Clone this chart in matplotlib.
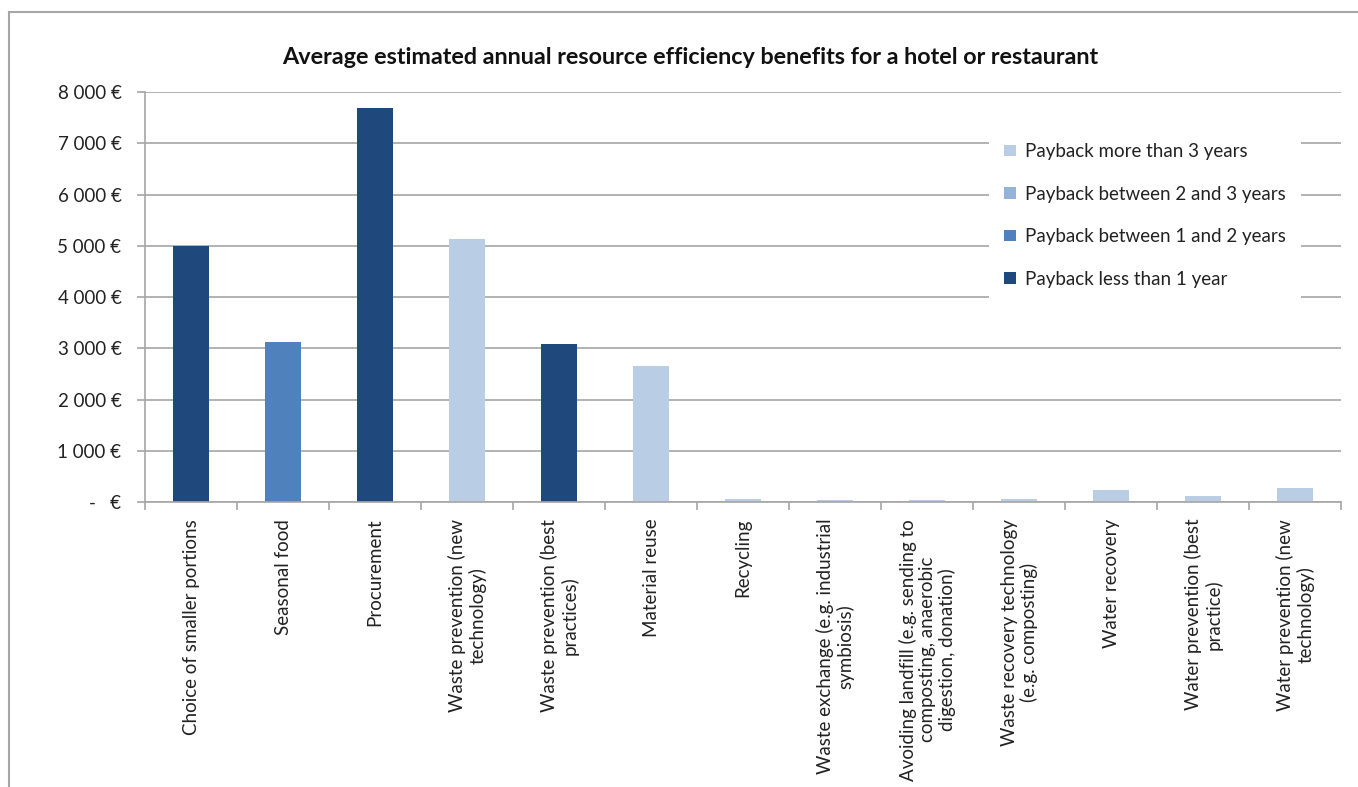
import matplotlib
matplotlib.use('Agg')
import matplotlib.pyplot as plt
import numpy as np
from matplotlib.patches import Patch

# Data
categories = [
    "Choice of smaller portions",
    "Seasonal food",
    "Procurement",
    "Waste prevention (new\ntechnology)",
    "Waste prevention (best\npractices)",
    "Material reuse",
    "Recycling",
    "Waste exchange (e.g. industrial\nsymbiosis)",
    "Avoiding landfill (e.g. sending to\ncomposting, anaerobic\ndigestion, donation)",
    "Waste recovery technology\n(e.g. composting)",
    "Water recovery",
    "Water prevention (best\npractice)",
    "Water prevention (new\ntechnology)",
]
values = [5000, 3120, 7690, 5130, 3080, 2650, 60, 40, 40, 60, 240, 120, 275]
payback = [3, 2, 3, 0, 3, 0, 0, 0, 0, 0, 0, 0, 0]   # index into classes below
classes = ["Payback more than 3 years", "Payback between 2 and 3 years",
           "Payback between 1 and 2 years", "Payback less than 1 year"]
yticks = [0, 1000, 2000, 3000, 4000, 5000, 6000, 7000, 8000]

colors = ["#B9CDE5", "#95B3D7", "#4F81BD", "#1F497D"]
grey = "#A6A6A6"
font = "Lato"

plt.rcParams['font.family'] = [font, 'DejaVu Sans']

fig = plt.figure(figsize=(13.58, 7.87), dpi=100)
ax = fig.add_axes([0.1068, 0.362, 0.881, 0.521])

x = np.arange(len(categories))
ax.bar(x, values, 0.39, color=[colors[p] for p in payback], zorder=2)

ax.set_xlim(-0.5, len(categories) - 0.5)
ax.set_ylim(0, 8000)

def euro(v):
    if v == 0:
        return "-   \u20ac"
    return "{:,.0f} \u20ac".format(v).replace(",", " ")

ax.set_yticks(yticks)
ax.set_yticklabels([euro(v) for v in yticks], fontsize=13.5, color="#222222")
ax.grid(axis='y', color=grey, linewidth=1.2, zorder=0)
ax.set_axisbelow(True)

ax.set_xticks(x)
ax.set_xticklabels(categories, rotation=90, ha='center', va='top',
                   multialignment='center', fontsize=13.5, color="#222222",
                   linespacing=1.15)
ax.tick_params(axis='x', which='major', length=0, pad=12)
ax.set_xticks(np.arange(-0.5, len(categories)), minor=True)
ax.tick_params(axis='x', which='minor', length=6, color=grey, width=1.2)
ax.tick_params(axis='y', length=6, color=grey, width=1.2, pad=11)

for s in ['top', 'right']:
    ax.spines[s].set_visible(False)
for s in ['left', 'bottom']:
    ax.spines[s].set_color(grey)
    ax.spines[s].set_linewidth(1.2)

handles = [Patch(facecolor=c) for c in colors]
leg = ax.legend(handles, classes, loc='upper left',
                bbox_to_anchor=(0.698, 0.935), fontsize=13.5, frameon=True,
                fancybox=False, edgecolor='none', facecolor='white', framealpha=1,
                labelspacing=1.36, handlelength=0.6, handleheight=0.6,
                handletextpad=0.5, borderpad=0.8)
for t in leg.get_texts():
    t.set_color("#222222")

fig.text(0.508, 0.927, "Average estimated annual resource efficiency benefits for a hotel or restaurant",
         ha='center', va='center', fontsize=16.8, fontweight='bold', color="#111111")

# outer chart frame
fig.add_artist(plt.Line2D([0.0066, 0.0066], [0.0, 0.985], color=grey, linewidth=1.5,
                          transform=fig.transFigure))
fig.add_artist(plt.Line2D([0.0066, 1.0], [0.985, 0.985], color=grey, linewidth=1.5,
                          transform=fig.transFigure))

fig.savefig("out.png", dpi=100)
